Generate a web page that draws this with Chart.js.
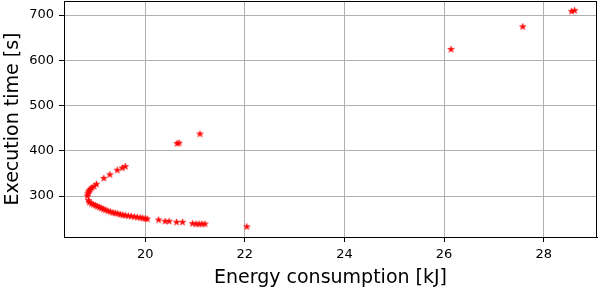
<!DOCTYPE html>
<html>
<head>
<meta charset="utf-8">
<script src="https://cdn.jsdelivr.net/npm/chart.js@4"></script>
<style>
  html, body { margin: 0; padding: 0; background: #fff; }
  #wrap { width: 598px; height: 298px; }
</style>
</head>
<body>
<div id="wrap"><canvas id="myChart" width="598" height="298"></canvas></div>
<script>
// Energía (kJ) y tiempo de ejecución (s)
const energia = [
  18.86, 18.88, 18.92, 18.96, 19.00, 19.04, 19.08, 19.12, 19.16, 19.20,
  19.25, 19.30, 19.35, 19.40, 19.45, 19.50, 19.55, 19.60, 19.66, 19.72,
  19.78, 19.84, 19.90, 19.95, 20.00, 20.04,
  20.27, 20.40, 20.48, 20.63, 20.75, 20.95, 21.02, 21.08, 21.14, 21.20, 22.04,
  18.84, 18.85, 18.86, 18.88, 18.90, 18.93, 18.97, 19.02, 19.17, 19.29, 19.44, 19.54, 19.60,
  20.64, 20.68, 21.10, 26.14, 27.58, 28.56, 28.62
];
const tiempo = [
  290, 286, 283, 281, 279, 277, 275, 273, 271, 269,
  267, 265, 263, 262, 261, 259, 258, 257, 256, 255,
  254, 253, 252, 251, 250, 249,
  247, 244, 244, 242, 242, 239, 238, 238, 238, 238, 232,
  300, 305, 309, 312, 315, 318, 321, 326, 339, 347, 357, 362, 365,
  416, 417, 437, 624, 674, 708, 710
];
const ticksX = [20, 22, 24, 26, 28];
const ticksY = [300, 400, 500, 600, 700];

// Estrella rellena tipo matplotlib
function crearEstrella(r, color) {
  const c = document.createElement('canvas');
  const s = Math.ceil(r * 2 + 2);
  c.width = s; c.height = s;
  const g = c.getContext('2d');
  g.translate(s / 2, s / 2);
  g.beginPath();
  for (let i = 0; i < 10; i++) {
    const rad = i % 2 === 0 ? r : r * 0.382;
    const a = -Math.PI / 2 + i * Math.PI / 5;
    const px = rad * Math.cos(a), py = rad * Math.sin(a);
    if (i === 0) g.moveTo(px, py); else g.lineTo(px, py);
  }
  g.closePath();
  g.fillStyle = color;
  g.fill();
  g.strokeStyle = color;
  g.lineWidth = 0.6;
  g.stroke();
  return c;
}
const estrella = crearEstrella(3.4, 'rgb(255,0,0)');

// Marco completo (arriba y derecha también)
const marco = {
  id: 'marco',
  afterDraw(chart) {
    const a = chart.chartArea, ctx = chart.ctx;
    ctx.save();
    ctx.strokeStyle = '#000';
    ctx.lineWidth = 1;
    ctx.strokeRect(Math.round(a.left) + 0.5, Math.round(a.top) + 0.5,
      Math.round(a.right - a.left) - 1, Math.round(a.bottom - a.top));
    ctx.restore();
  }
};

const fuente = "'DejaVu Sans', sans-serif";
const ctx = document.getElementById('myChart');
new Chart(ctx, {
  type: 'scatter',
  data: {
    datasets: [{
      data: energia.map((x, i) => ({ x: x, y: tiempo[i] })),
      pointStyle: estrella,
      pointRadius: 4,
      borderWidth: 0
    }]
  },
  options: {
    responsive: false,
    animation: false,
    devicePixelRatio: 1,
    layout: { autoPadding: false, padding: { top: 1, right: 1, left: 0, bottom: 0 } },
    plugins: { legend: { display: false }, tooltip: { enabled: false } },
    scales: {
      x: {
        type: 'linear',
        min: 18.37,
        max: 29.07,
        afterBuildTicks: s => { s.ticks = ticksX.map(v => ({ value: v })); },
        afterFit: s => { s.height = 61; s.paddingLeft = 0; s.paddingRight = 0; },
        grid: { color: '#b0b0b0', lineWidth: 1, tickColor: '#000', tickLength: 5 },
        border: { color: '#000', width: 1 },
        ticks: { color: '#000', font: { family: fuente, size: 13 }, padding: 5, maxRotation: 0 },
        title: {
          display: true, text: 'Energy consumption [kJ]', color: '#000',
          font: { family: fuente, size: 19, lineHeight: 1.2 }, padding: { top: 0, bottom: 9 }
        }
      },
      y: {
        type: 'linear',
        min: 209.4,
        max: 731,
        afterBuildTicks: s => { s.ticks = ticksY.map(v => ({ value: v })); },
        afterFit: s => { s.width = 64; s.paddingTop = 0; s.paddingBottom = 0; },
        grid: { color: '#b0b0b0', lineWidth: 1, tickColor: '#000', tickLength: 5 },
        border: { color: '#000', width: 1 },
        ticks: { color: '#000', font: { family: fuente, size: 13 }, padding: 5 },
        title: {
          display: true, text: 'Execution time [s]', color: '#000',
          font: { family: fuente, size: 19, lineHeight: 1.2 }, padding: { top: 2, bottom: 0 }
        }
      }
    }
  },
  plugins: [marco]
});
</script>
</body>
</html>
